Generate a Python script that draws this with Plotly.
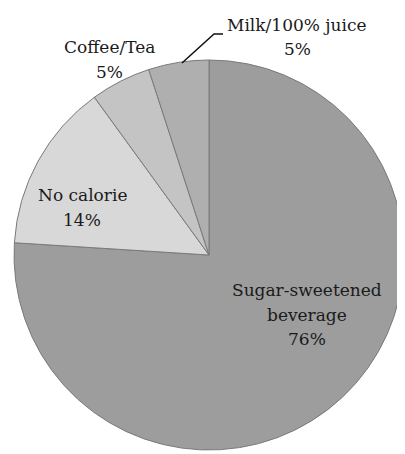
import plotly.graph_objects as go

categories = ["Sugar-sweetened<br>beverage", "No calorie", "Coffee/Tea", "Milk/100% juice"]
values = [76, 14, 5, 5]
colors = ["#9d9d9d", "#d8d8d8", "#c4c4c4", "#afafaf"]

# page body has an 8px margin; lay out in screen pixels and convert
OFF = 8
W, H = 397, 446
def px(x, y):
    return (x - OFF) / W, 1 - (y - OFF) / H

x0, y0 = px(14, 60)
x1, y1 = px(404, 450)

fig = go.Figure()
fig.add_trace(go.Pie(
    labels=categories,
    values=values,
    sort=False,
    direction="clockwise",
    rotation=0,
    marker=dict(colors=colors, line=dict(color="#7a7a7a", width=1)),
    textinfo="none",
    hoverinfo="label+percent",
    showlegend=False,
    domain=dict(x=[x0, x1], y=[y1, y0]),
))

# first-line centre of each label (screen px); lines 24.5 px apart
label_pos = [(307, 290), (82, 195), (109, 47), (297, 25)]
LINE = 24.5
font = dict(family="DejaVu Serif", size=17, color="#1a1a1a")
for cat, v, (x, y) in zip(categories, values, label_pos):
    lines = cat.split("<br>") + [f"{v}%"]
    for i, t in enumerate(lines):
        xp, yp = px(x, y + i * LINE)
        fig.add_annotation(x=xp, y=yp, xref="paper", yref="paper",
                           text=t, showarrow=False,
                           font=font, xanchor="center", yanchor="middle")

# leader line for Milk/100% juice
p0 = px(182, 63)
p1 = px(214, 34)
p2 = px(223, 34)
fig.add_shape(type="path", xref="paper", yref="paper",
              path=f"M {p0[0]},{p0[1]} L {p1[0]},{p1[1]} L {p2[0]},{p2[1]}",
              line=dict(color="#111111", width=1.5))

fig.update_layout(
    width=W, height=H,
    margin=dict(l=0, r=0, t=0, b=0),
    paper_bgcolor="white", plot_bgcolor="white",
)
fig.write_html("out.html")
